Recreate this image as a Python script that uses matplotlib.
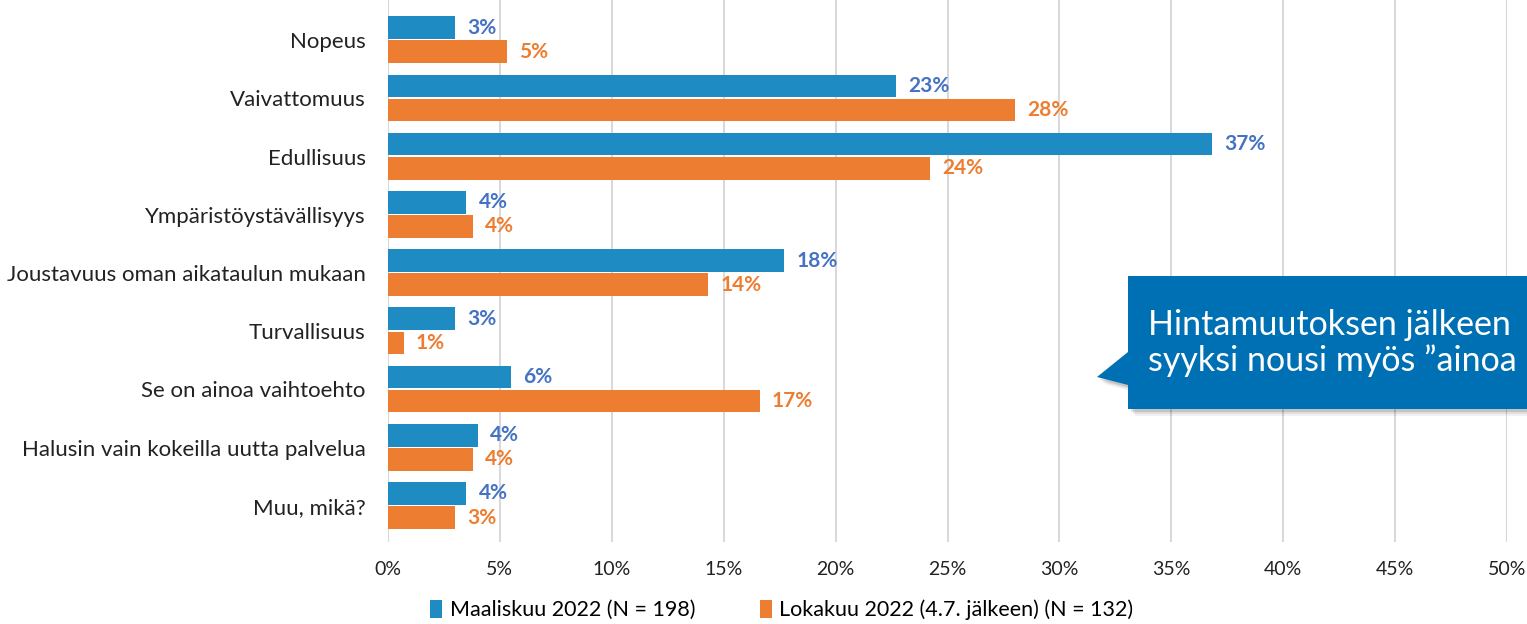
import matplotlib.pyplot as plt
from matplotlib.patches import Polygon
import numpy as np

plt.rcParams['font.family'] = ['Lato', 'DejaVu Sans']

categories = ["Nopeus", "Vaivattomuus", "Edullisuus", "Ympäristöystävällisyys",
              "Joustavuus oman aikataulun mukaan", "Turvallisuus",
              "Se on ainoa vaihtoehto", "Halusin vain kokeilla uutta palvelua",
              "Muu, mikä?"]
maalis = [3.0, 22.7, 36.8, 3.5, 17.7, 3.0, 5.5, 4.0, 3.5]
lokakuu = [5.3, 28.0, 24.2, 3.8, 14.3, 0.7, 16.6, 3.8, 3.0]
series_names = ["Maaliskuu 2022 (N = 198)", "Lokakuu 2022 (4.7. jälkeen) (N = 132)"]
ticks = [0, 5, 10, 15, 20, 25, 30, 35, 40, 45, 50]

blue = "#1F8BC3"
orange = "#ED7D31"
blue_txt = "#4472C4"

fig = plt.figure(figsize=(15.27, 6.24), dpi=100)
ax = fig.add_axes([388/1527, 1 - 542/624, (1507-388)/1527, 542/624])

y = np.arange(len(categories))
h = 0.39
b1 = ax.barh(y - 0.215, maalis, height=h, color=blue, label=series_names[0], zorder=3)
b2 = ax.barh(y + 0.2, lokakuu, height=h, color=orange, label=series_names[1], zorder=3)

for yi, v in zip(y, maalis):
    ax.text(v + 0.55, yi - 0.215, f"{round(v)}%", va="center", ha="left",
            color=blue_txt, fontsize=15, fontweight="bold")
for yi, v in zip(y, lokakuu):
    ax.text(v + 0.55, yi + 0.2, f"{round(v)}%", va="center", ha="left",
            color=orange, fontsize=15, fontweight="bold")

ax.set_xlim(0, 50)
ax.set_ylim(8.62, -0.69)
ax.set_xticks(ticks)
ax.set_xticklabels([f"{t}%" for t in ticks], fontsize=14)
ax.set_yticks(y)
ax.set_yticklabels(categories, fontsize=16)
ax.tick_params(length=0, colors="#222222")
ax.tick_params(axis="y", pad=16)
ax.tick_params(axis="x", pad=14)
ax.grid(axis="x", color="#D9D9D9", linewidth=1.5, zorder=0)
for s in ax.spines.values():
    s.set_visible(False)

fig.legend(handles=[b1, b2], loc="center", bbox_to_anchor=(0.512, 1 - 610/624),
           ncol=2, frameon=False, fontsize=15.5, handlelength=0.55, handleheight=0.9,
           columnspacing=3.0, handletextpad=0.35)

# callout
W, H = 1527, 624
def fc(px, py):
    return (px / W, 1 - py / H)

shape = [(1128, 276), (1540, 276), (1540, 409), (1128, 409),
         (1128, 385), (1097, 377), (1128, 352)]
for off, a in [(7, 0.05), (5, 0.08), (3, 0.12)]:
    fig.add_artist(Polygon([fc(x + off, yy + off) for x, yy in shape],
                           closed=True, transform=fig.transFigure,
                           facecolor="#000000", alpha=a, edgecolor="none", zorder=9))
fig.add_artist(Polygon([fc(x, yy) for x, yy in shape], closed=True,
                       transform=fig.transFigure, facecolor="#0070B4",
                       edgecolor="none", zorder=10))
fig.text(*fc(1148, 343), "Hintamuutoksen jälkeen\nsyyksi nousi myös ”ainoa",
         color="white", fontsize=24.5, ha="left", va="center", linespacing=1.15,
         zorder=11)

fig.savefig("out.png", dpi=100)
